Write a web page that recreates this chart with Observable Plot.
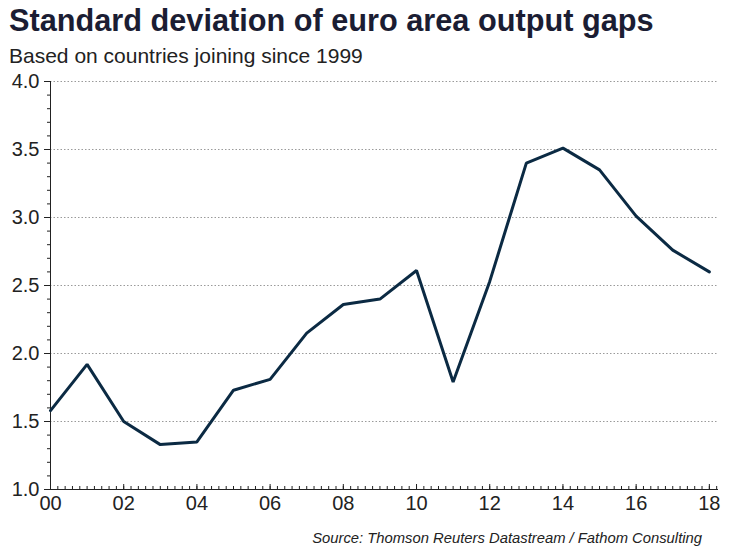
<!DOCTYPE html>
<html>
<head>
<meta charset="utf-8">
<script src="https://cdn.jsdelivr.net/npm/d3@7"></script>
<script src="https://cdn.jsdelivr.net/npm/@observablehq/plot@0.6"></script>
<style>
  body { margin: 0; background: #fff; font-family: "Liberation Sans", Arial, sans-serif; }
  #wrap { position: relative; width: 745px; height: 550px; overflow: hidden; }
  #title { position: absolute; left: 9px; top: 4px; font-size: 30.7px; line-height: 34px; font-weight: bold; color: #1b1d33; white-space: nowrap; }
  #subtitle { position: absolute; left: 9px; top: 44px; font-size: 21px; line-height: 24px; color: #222; white-space: nowrap; }
  #caption { position: absolute; right: 43px; top: 530px; font-size: 14.8px; line-height: 17px; font-style: italic; color: #222; white-space: nowrap; }
  #chart { position: absolute; left: 0; top: 0; }
</style>
</head>
<body>
<div id="wrap">
  <div id="chart"></div>
  <div id="title">Standard deviation of euro area output gaps</div>
  <div id="subtitle">Based on countries joining since 1999</div>
  <div id="caption">Source: Thomson Reuters Datastream / Fathom Consulting</div>
</div>
<script>
const years = [2000, 2001, 2002, 2003, 2004, 2005, 2006, 2007, 2008, 2009, 2010, 2011, 2012, 2013, 2014, 2015, 2016, 2017, 2018];
const stdDev = [1.58, 1.92, 1.50, 1.33, 1.35, 1.73, 1.81, 2.15, 2.36, 2.40, 2.61, 1.79, 2.53, 3.40, 3.51, 3.35, 3.01, 2.76, 2.60];
const yMajorTicks = [1.0, 1.5, 2.0, 2.5, 3.0, 3.5, 4.0];
const yMinorTicks = d3.range(10, 41).map(d => d / 10);
const xMajorTicks = [2000, 2002, 2004, 2006, 2008, 2010, 2012, 2014, 2016, 2018];
const xMinorTicks = d3.range(0, 92).map(i => 2000 + i / 5);
const gridValues = [1.5, 2.0, 2.5, 3.0, 3.5, 4.0];

const data = years.map((y, i) => ({year: y, value: stdDev[i]}));
const ink = "#222";

const chart = Plot.plot({
  width: 745,
  height: 550,
  marginLeft: 50,
  marginRight: 27,
  marginTop: 81,
  marginBottom: 61,
  style: {fontFamily: "Liberation Sans, Arial, sans-serif", color: ink, background: "transparent"},
  x: {domain: [2000, 2018.25], label: null},
  y: {domain: [1, 4], label: null},
  marks: [
    Plot.ruleY(gridValues, {stroke: "#9a9a9a", strokeWidth: 1, strokeDasharray: "1.5,2"}),
    Plot.axisY(yMinorTicks, {tickSize: 3, tickFormat: () => "", stroke: ink, label: null}),
    Plot.axisY(yMajorTicks, {tickSize: 6, tickPadding: 5, tickFormat: d3.format(".1f"), fontSize: 20, fill: ink, stroke: ink, label: null}),
    Plot.axisX(xMinorTicks, {tickSize: -3, tickFormat: () => "", stroke: ink, label: null}),
    Plot.axisX(xMajorTicks, {tickSize: -5, tickFormat: () => "", stroke: ink, label: null}),
    Plot.axisX(xMajorTicks, {tickSize: 0, tickPadding: 6, tickFormat: d => String(d % 100).padStart(2, "0"), fontSize: 20, fill: ink, label: null}),
    Plot.ruleX([2000], {stroke: ink, strokeWidth: 1}),
    Plot.ruleY([1], {stroke: ink, strokeWidth: 1}),
    Plot.lineY(data, {x: "year", y: "value", stroke: "#0b2a43", strokeWidth: 3, strokeLinejoin: "miter"})
  ]
});
document.getElementById("chart").appendChild(chart);
</script>
</body>
</html>
